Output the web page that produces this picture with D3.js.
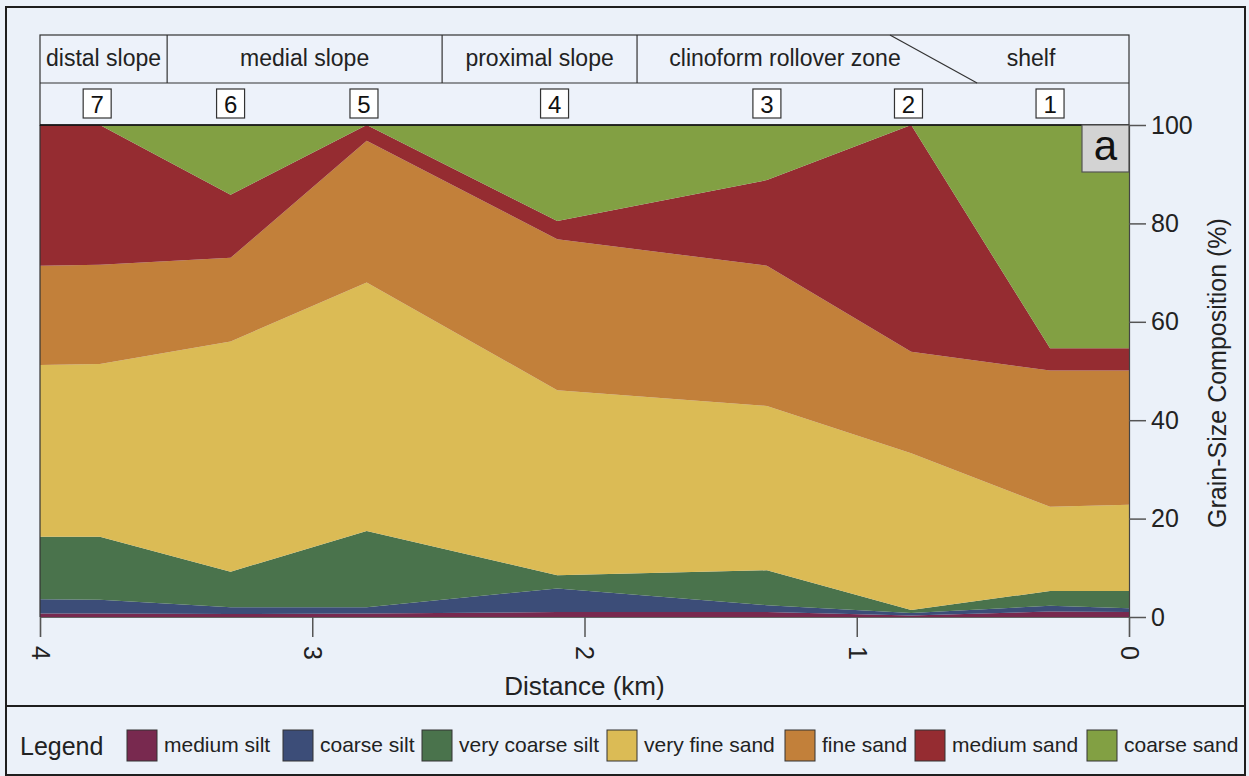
<!DOCTYPE html>
<html>
<head>
<meta charset="utf-8">
<script src="https://cdn.jsdelivr.net/npm/d3@7"></script>
<style>
  html, body { margin: 0; padding: 0; background: #ebf1f9; }
  svg { display: block; font-family: "Liberation Sans", Arial, Helvetica, sans-serif; }
</style>
</head>
<body>
<svg id="chart" width="1249" height="776"></svg>
<script>
// ---------------- DATA ----------------
const grainSizes = ["medium silt", "coarse silt", "very coarse silt", "very fine sand", "fine sand", "medium sand", "coarse sand"];
const colors = ["#78294f", "#3c4d78", "#4a734c", "#dbbb55", "#c2803a", "#952c31", "#82a043"];

// distance (km) of profile points (ends of section + stations 7..1)
const distance = [4.0, 3.78, 3.30, 2.80, 2.10, 1.33, 0.80, 0.29, 0.0];
const stationLabels = ["7", "6", "5", "4", "3", "2", "1"];
const stationDistance = [3.79, 3.30, 2.81, 2.11, 1.33, 0.81, 0.29];

// percentages of each grain size at each profile point
const mediumSilt     = [0.7, 0.7, 0.6, 0.7, 1.0, 1.0, 0.3, 1.1, 1.0];
const coarseSilt     = [2.9, 2.8, 1.4, 1.3, 4.8, 1.4, 0.5, 1.2, 0.8];
const veryCoarseSilt = [12.7, 12.8, 7.2, 15.5, 2.7, 7.1, 0.6, 3.0, 3.5];
const veryFineSand   = [34.9, 35.1, 46.8, 50.5, 37.6, 33.4, 31.9, 17.1, 17.5];
const fineSand       = [20.2, 20.2, 17.0, 28.8, 30.7, 28.5, 20.6, 27.7, 27.3];
const mediumSand     = [28.6, 28.4, 12.8, 3.2, 3.7, 17.4, 46.1, 4.5, 4.5];
const coarseSand     = [0.0, 0.0, 14.2, 0.0, 19.5, 11.2, 0.0, 45.4, 45.4];

// zones along the top of the section
const zoneNames = ["distal slope", "medial slope", "proximal slope", "clinoform rollover zone", "shelf"];
const zoneBoundaries = [4.0, 3.533, 2.523, 1.807, 0.72, 0.0]; // km
const rolloverDiagonal = [0.878, 0.558]; // top, bottom (km)

const xTicks = [4, 3, 2, 1, 0];
const yTicks = [0, 20, 40, 60, 80, 100];

// ---------------- BUILD ----------------
const series = [mediumSilt, coarseSilt, veryCoarseSilt, veryFineSand, fineSand, mediumSand, coarseSand];
const table = distance.map((d, i) => {
  const row = { distance: d };
  grainSizes.forEach((g, k) => row[g] = series[k][i]);
  return row;
});

const svg = d3.select("#chart");
const W = 1249, H = 776;
const bg = "#ebf1f9";
const fontFam = '"Liberation Sans", Arial, Helvetica, sans-serif';

svg.append("rect").attr("width", W).attr("height", H).attr("fill", bg);

const plot = { left: 40, right: 1129, top: 125, bottom: 617 };
const x = d3.scaleLinear().domain([4, 0]).range([plot.left, plot.right]);
const y = d3.scaleLinear().domain([0, 100]).range([plot.bottom, plot.top]);

// outer frames
svg.append("rect").attr("x", 6).attr("y", 7).attr("width", 1239).attr("height", 699)
  .attr("fill", "none").attr("stroke", "#1e1e1e").attr("stroke-width", 2);
svg.append("rect").attr("x", 6).attr("y", 706).attr("width", 1239).attr("height", 69)
  .attr("fill", "none").attr("stroke", "#1e1e1e").attr("stroke-width", 2);

// stacked areas
const stack = d3.stack().keys(grainSizes);
const layers = stack(table);
const area = d3.area()
  .x(d => x(d.data.distance))
  .y0(d => y(d[0]))
  .y1(d => y(d[1]));

svg.append("g").selectAll("path").data(layers).join("path")
  .attr("d", area)
  .attr("fill", (d, i) => colors[i]);

// plot left border
svg.append("line").attr("x1", plot.left).attr("x2", plot.left)
  .attr("y1", plot.top).attr("y2", plot.bottom).attr("stroke", "#333").attr("stroke-width", 1.2);

// header table
const hdrTop = 35, hdrMid = 83;
svg.append("rect").attr("x", plot.left).attr("y", hdrTop)
  .attr("width", plot.right - plot.left).attr("height", plot.top - hdrTop)
  .attr("fill", "#edf2fa").attr("stroke", "#333").attr("stroke-width", 1.2);
svg.append("line").attr("x1", plot.left).attr("x2", plot.right)
  .attr("y1", hdrMid).attr("y2", hdrMid).attr("stroke", "#333").attr("stroke-width", 1.2);
svg.append("line").attr("x1", plot.left).attr("x2", plot.right)
  .attr("y1", plot.top).attr("y2", plot.top).attr("stroke", "#111").attr("stroke-width", 1.6);

// zone dividers (vertical)
[1, 2, 3].forEach(i => {
  svg.append("line").attr("x1", x(zoneBoundaries[i])).attr("x2", x(zoneBoundaries[i]))
    .attr("y1", hdrTop).attr("y2", hdrMid).attr("stroke", "#333").attr("stroke-width", 1.2);
});
svg.append("line").attr("x1", x(rolloverDiagonal[0])).attr("x2", x(rolloverDiagonal[1]))
  .attr("y1", hdrTop).attr("y2", hdrMid).attr("stroke", "#333").attr("stroke-width", 1.2);

zoneNames.forEach((name, i) => {
  const cx = (x(zoneBoundaries[i]) + x(zoneBoundaries[i + 1])) / 2;
  svg.append("text").attr("x", cx).attr("y", 66)
    .attr("text-anchor", "middle").attr("font-size", 23).attr("fill", "#222")
    .text(name);
});

// station boxes
const stG = svg.append("g").selectAll("g").data(stationLabels).join("g")
  .attr("transform", (d, i) => `translate(${x(stationDistance[i])},104)`);
stG.append("rect").attr("x", -14).attr("y", -15).attr("width", 28).attr("height", 29)
  .attr("fill", "#fff").attr("stroke", "#333").attr("stroke-width", 1.2);
stG.append("text").attr("text-anchor", "middle").attr("y", 9)
  .attr("font-size", 24).attr("fill", "#111").text(d => d);

// "a" label
svg.append("rect").attr("x", 1082).attr("y", plot.top).attr("width", plot.right - 1082).attr("height", 47)
  .attr("fill", "#d3d3d3").attr("stroke", "#555").attr("stroke-width", 1.2);
svg.append("text").attr("x", 1105.5).attr("y", 160).attr("text-anchor", "middle")
  .attr("font-size", 42).attr("fill", "#111").text("a");

// right y axis
const yAxis = d3.axisRight(y).tickValues(yTicks).tickSize(17).tickPadding(5);
const gy = svg.append("g").attr("transform", `translate(${plot.right},0)`).call(yAxis);
gy.select(".domain").attr("stroke", "#444").attr("stroke-width", 1.2);
gy.selectAll(".tick line").attr("stroke", "#555").attr("stroke-width", 1.5);
gy.selectAll(".tick text").attr("font-size", 25).attr("fill", "#222").attr("font-family", fontFam);

svg.append("text")
  .attr("transform", `translate(1226,${(plot.top + plot.bottom) / 2 + 2}) rotate(-90)`)
  .attr("text-anchor", "middle").attr("font-size", 25).attr("fill", "#222")
  .text("Grain-Size Composition (%)");

// bottom x axis
const xAxis = d3.axisBottom(x).tickValues(xTicks).tickSize(20).tickFormat(d3.format("d"));
const gx = svg.append("g").attr("transform", `translate(0,${plot.bottom})`).call(xAxis);
gx.select(".domain").attr("stroke", "#666").attr("stroke-width", 1.2);
gx.selectAll(".tick line").attr("stroke", "#555").attr("stroke-width", 1.5);
gx.selectAll(".tick text")
  .attr("font-size", 25).attr("fill", "#222").attr("font-family", fontFam)
  .attr("y", 0).attr("dy", "0.35em")
  .attr("transform", "translate(0,36) rotate(90)")
  .attr("text-anchor", "middle");

svg.append("text").attr("x", (plot.left + plot.right) / 2).attr("y", 695)
  .attr("text-anchor", "middle").attr("font-size", 26).attr("fill", "#222")
  .text("Distance (km)");

// legend
svg.append("text").attr("x", 20).attr("y", 755).attr("font-size", 25).attr("fill", "#222").text("Legend");
const legendX = [127, 283, 422, 607, 785, 915, 1087];
const lg = svg.append("g").selectAll("g").data(grainSizes).join("g")
  .attr("transform", (d, i) => `translate(${legendX[i]},730)`);
lg.append("rect").attr("width", 30).attr("height", 31)
  .attr("fill", (d, i) => colors[i]).attr("stroke", "#333").attr("stroke-width", 1);
lg.append("text").attr("x", 37).attr("y", 22).attr("font-size", 21).attr("fill", "#222").text(d => d);
</script>
</body>
</html>
